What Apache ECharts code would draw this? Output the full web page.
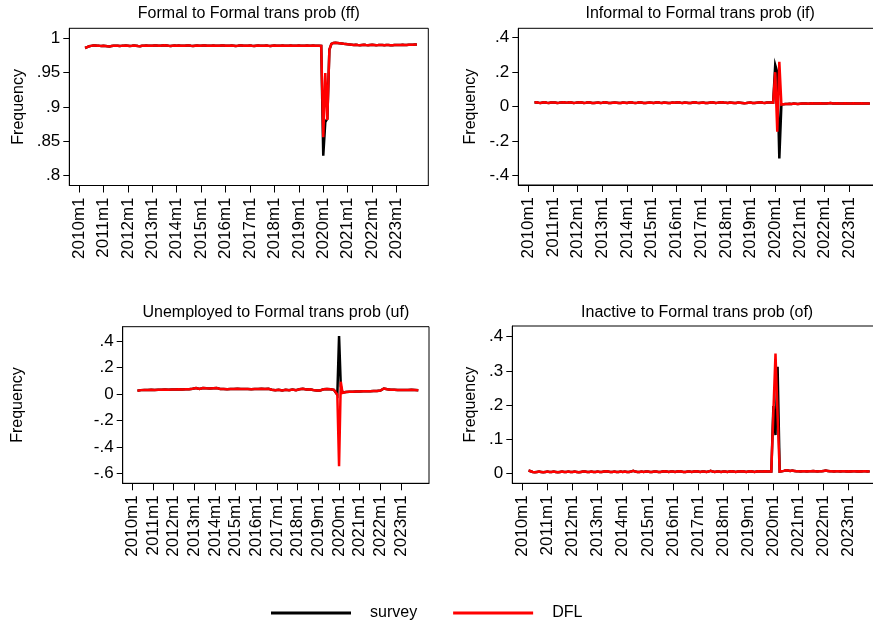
<!DOCTYPE html>
<html><head><meta charset="utf-8">
<script src="https://cdn.jsdelivr.net/npm/echarts@6/dist/echarts.min.js"></script>
<style>html,body{margin:0;padding:0;background:#fff}#c{width:873px;height:628px}</style>
</head><body><div id="c"></div>
<script>
// month index: 0 = 2010m1; data run from 2010m4 (index 3) to 2023m11
const startMonth = 3;
const yearTicks = [0,12,24,36,48,60,72,84,96,108,120,132,144,156];
const ffTicks = [0.8,0.85,0.9,0.95,1];
const ifTicks = [-0.4,-0.2,0,0.2,0.4];
const ufTicks = [-0.6,-0.4,-0.2,0,0.2,0.4];
const ofTicks = [0,0.1,0.2,0.3,0.4];
const titles = ['Formal to Formal trans prob (ff)','Informal to Formal trans prob (if)','Unemployed to Formal trans prob (uf)','Inactive to Formal trans prob (of)'];
const seriesNames = ['survey','DFL'];

const ffSurvey = [
0.9855,0.9868,0.9880,0.9886,0.9890,0.9891,0.9889,0.9886,0.9884,
0.9887,0.9885,0.9880,0.9878,0.9883,0.9886,0.9889,0.9887,0.9884,0.9886,0.9889,0.9890,
0.9888,0.9885,0.9887,0.9890,0.9888,0.9884,0.9882,0.9886,0.9889,0.9891,0.9888,0.9886,
0.9889,0.9892,0.9890,0.9887,0.9889,0.9891,0.9893,0.9890,0.9886,0.9884,0.9887,0.9890,
0.9889,0.9891,0.9888,0.9886,0.9889,0.9892,0.9890,0.9887,0.9885,0.9888,0.9890,0.9889,
0.9887,0.9890,0.9892,0.9889,0.9886,0.9888,0.9891,0.9889,0.9887,0.9889,0.9892,0.9890,
0.9888,0.9886,0.9889,0.9891,0.9888,0.9885,0.9887,0.9890,0.9892,0.9889,0.9886,0.9888,
0.9890,0.9887,0.9885,0.9888,0.9891,0.9889,0.9886,0.9888,0.9890,0.9887,0.9885,0.9888,
0.9890,0.9888,0.9886,0.9889,0.9891,0.9888,0.9886,0.9889,0.9890,0.9888,0.9887,0.9889,
0.9891,0.9888,0.9886,0.9889,0.9890,0.9887,0.9889,0.9891,0.9888,0.9886,0.9889,0.9885,
0.829,0.878,0.883,0.983,0.9915,0.9928,0.9932,0.9929,0.9925,0.9921,0.9916,0.9912,
0.9908,0.9905,0.9902,0.9899,0.9901,0.9898,0.9896,0.9899,0.9901,0.9898,0.9896,0.9899,
0.9901,0.9898,0.9895,0.9897,0.9900,0.9898,0.9895,0.9897,0.9899,0.9896,0.9894,0.9897,
0.9899,0.9897,0.9899,0.9902,0.9900,0.9898,0.9901,0.9903,0.9901,0.9904,0.9906];
const ffDFL = [
0.9855,0.9868,0.9880,0.9886,0.9890,0.9891,0.9889,0.9886,0.9884,
0.9887,0.9885,0.9880,0.9878,0.9883,0.9886,0.9889,0.9887,0.9884,0.9886,0.9889,0.9890,
0.9888,0.9885,0.9887,0.9890,0.9888,0.9884,0.9882,0.9886,0.9889,0.9891,0.9888,0.9886,
0.9889,0.9892,0.9890,0.9887,0.9889,0.9891,0.9893,0.9890,0.9886,0.9884,0.9887,0.9890,
0.9889,0.9891,0.9888,0.9886,0.9889,0.9892,0.9890,0.9887,0.9885,0.9888,0.9890,0.9889,
0.9887,0.9890,0.9892,0.9889,0.9886,0.9888,0.9891,0.9889,0.9887,0.9889,0.9892,0.9890,
0.9888,0.9886,0.9889,0.9891,0.9888,0.9885,0.9887,0.9890,0.9892,0.9889,0.9886,0.9888,
0.9890,0.9887,0.9885,0.9888,0.9891,0.9889,0.9886,0.9888,0.9890,0.9887,0.9885,0.9888,
0.9890,0.9888,0.9886,0.9889,0.9891,0.9888,0.9886,0.9889,0.9890,0.9888,0.9887,0.9889,
0.9891,0.9888,0.9886,0.9889,0.9890,0.9887,0.9889,0.9891,0.9888,0.9886,0.9889,0.9885,
0.856,0.949,0.881,0.983,0.9915,0.9928,0.9932,0.9929,0.9925,0.9921,0.9916,0.9912,
0.9908,0.9905,0.9902,0.9899,0.9901,0.9898,0.9896,0.9899,0.9901,0.9898,0.9896,0.9899,
0.9901,0.9898,0.9895,0.9897,0.9900,0.9898,0.9895,0.9897,0.9899,0.9896,0.9894,0.9897,
0.9899,0.9897,0.9899,0.9902,0.9900,0.9898,0.9901,0.9903,0.9901,0.9904,0.9906];

const ifSurvey = [
0.024,0.025,0.023,0.022,0.024,0.025,0.023,0.022,0.024,
0.025,0.024,0.022,0.023,0.025,0.026,0.024,0.023,0.025,0.024,0.022,0.023,
0.025,0.026,0.024,0.022,0.023,0.025,0.024,0.022,0.021,0.023,0.024,0.022,
0.023,0.025,0.024,0.022,0.021,0.023,0.024,0.023,0.021,0.022,0.024,0.023,
0.022,0.024,0.025,0.023,0.022,0.023,0.025,0.024,0.022,0.021,0.023,0.024,
0.023,0.022,0.024,0.025,0.023,0.022,0.024,0.023,0.021,0.022,0.024,0.023,
0.024,0.025,0.023,0.022,0.024,0.023,0.021,0.022,0.024,0.025,0.023,0.022,
0.023,0.024,0.022,0.021,0.023,0.025,0.024,0.022,0.023,0.025,0.026,0.024,
0.023,0.022,0.024,0.023,0.021,0.022,0.024,0.023,0.022,0.020,0.021,0.023,
0.024,0.022,0.021,0.023,0.024,0.025,0.023,0.022,0.024,0.025,0.024,0.023,
0.242,0.200,-0.300,0.012,0.014,0.016,0.015,0.017,0.016,0.018,0.017,0.016,
0.017,0.018,0.019,0.018,0.017,0.019,0.020,0.019,0.018,0.019,0.020,0.019,
0.018,0.019,0.020,0.021,0.019,0.018,0.020,0.019,0.018,0.019,0.020,0.019,
0.018,0.019,0.020,0.019,0.018,0.019,0.020,0.019,0.018,0.019,0.019];
const ifDFL = [
0.024,0.025,0.023,0.022,0.024,0.025,0.023,0.022,0.024,
0.025,0.024,0.022,0.023,0.025,0.026,0.024,0.023,0.025,0.024,0.022,0.023,
0.025,0.026,0.024,0.022,0.023,0.025,0.024,0.022,0.021,0.023,0.024,0.022,
0.023,0.025,0.024,0.022,0.021,0.023,0.024,0.023,0.021,0.022,0.024,0.023,
0.022,0.024,0.025,0.023,0.022,0.023,0.025,0.024,0.022,0.021,0.023,0.024,
0.023,0.022,0.024,0.025,0.023,0.022,0.024,0.023,0.021,0.022,0.024,0.023,
0.024,0.025,0.023,0.022,0.024,0.023,0.021,0.022,0.024,0.025,0.023,0.022,
0.023,0.024,0.022,0.021,0.023,0.025,0.024,0.022,0.023,0.025,0.026,0.024,
0.023,0.022,0.024,0.023,0.021,0.022,0.024,0.023,0.022,0.020,0.021,0.023,
0.024,0.022,0.021,0.023,0.024,0.025,0.023,0.022,0.024,0.025,0.024,0.023,
0.200,-0.145,0.260,0.012,0.014,0.016,0.015,0.017,0.016,0.018,0.017,0.016,
0.017,0.018,0.019,0.018,0.017,0.019,0.020,0.019,0.018,0.019,0.020,0.019,
0.018,0.019,0.020,0.021,0.019,0.018,0.020,0.019,0.018,0.019,0.020,0.019,
0.018,0.019,0.020,0.019,0.018,0.019,0.020,0.019,0.018,0.019,0.019];

const ufSurvey = [
0.025,0.028,0.030,0.027,0.031,0.033,0.030,0.028,0.032,
0.034,0.031,0.029,0.033,0.035,0.032,0.030,0.034,0.036,0.033,0.031,0.035,
0.037,0.034,0.032,0.036,0.038,0.035,0.033,0.037,0.039,0.036,0.034,0.040,
0.050,0.045,0.040,0.038,0.042,0.046,0.048,0.044,0.041,0.043,0.047,0.044,
0.048,0.045,0.041,0.039,0.036,0.038,0.040,0.037,0.035,0.038,0.041,0.039,
0.037,0.040,0.042,0.039,0.036,0.038,0.041,0.038,0.035,0.037,0.040,0.038,
0.036,0.039,0.042,0.040,0.037,0.039,0.043,0.040,0.036,0.033,0.031,0.029,
0.031,0.033,0.030,0.028,0.031,0.033,0.031,0.029,0.032,0.034,0.032,0.030,
0.033,0.036,0.038,0.040,0.037,0.035,0.038,0.036,0.033,0.031,0.029,0.027,
0.025,0.028,0.032,0.036,0.040,0.038,0.035,0.037,0.034,0.032,0.040,-0.005,
0.438,0.060,0.012,0.015,0.015,0.018,0.017,0.019,0.018,0.020,0.019,0.021,
0.020,0.022,0.021,0.023,0.022,0.020,0.022,0.024,0.023,0.021,0.023,0.025,
0.027,0.033,0.042,0.040,0.037,0.035,0.033,0.031,0.032,0.030,0.031,0.029,
0.030,0.032,0.031,0.029,0.031,0.033,0.032,0.030,0.031,0.030,0.029];
const ufDFL = [
0.025,0.028,0.030,0.027,0.031,0.033,0.030,0.028,0.032,
0.034,0.031,0.029,0.033,0.035,0.032,0.030,0.034,0.036,0.033,0.031,0.035,
0.037,0.034,0.032,0.036,0.038,0.035,0.033,0.037,0.039,0.036,0.034,0.040,
0.050,0.045,0.040,0.038,0.042,0.046,0.048,0.044,0.041,0.043,0.047,0.044,
0.048,0.045,0.041,0.039,0.036,0.038,0.040,0.037,0.035,0.038,0.041,0.039,
0.037,0.040,0.042,0.039,0.036,0.038,0.041,0.038,0.035,0.037,0.040,0.038,
0.036,0.039,0.042,0.040,0.037,0.039,0.043,0.040,0.036,0.033,0.031,0.029,
0.031,0.033,0.030,0.028,0.031,0.033,0.031,0.029,0.032,0.034,0.032,0.030,
0.033,0.036,0.038,0.040,0.037,0.035,0.038,0.036,0.033,0.031,0.029,0.027,
0.025,0.028,0.032,0.036,0.040,0.038,0.035,0.037,0.034,0.032,0.040,-0.005,
-0.543,0.093,0.008,0.015,0.015,0.018,0.017,0.019,0.018,0.020,0.019,0.021,
0.020,0.022,0.021,0.023,0.022,0.020,0.022,0.024,0.023,0.021,0.023,0.025,
0.027,0.033,0.042,0.040,0.037,0.035,0.033,0.031,0.032,0.030,0.031,0.029,
0.030,0.032,0.031,0.029,0.031,0.033,0.032,0.030,0.031,0.030,0.029];

const ofSurvey = [
0.008,0.006,0.004,0.003,0.004,0.005,0.004,0.003,0.004,
0.005,0.004,0.004,0.005,0.004,0.003,0.004,0.005,0.004,0.004,0.005,0.004,
0.004,0.005,0.004,0.003,0.004,0.005,0.005,0.004,0.004,0.005,0.004,0.004,
0.005,0.004,0.004,0.005,0.006,0.005,0.004,0.004,0.005,0.004,0.004,0.005,
0.004,0.005,0.004,0.004,0.005,0.007,0.005,0.004,0.004,0.005,0.004,0.005,
0.005,0.004,0.004,0.005,0.005,0.004,0.004,0.005,0.006,0.005,0.004,0.005,
0.005,0.004,0.005,0.006,0.005,0.004,0.004,0.005,0.005,0.004,0.005,0.006,
0.005,0.004,0.005,0.005,0.004,0.005,0.007,0.005,0.004,0.005,0.005,0.004,
0.005,0.005,0.004,0.005,0.006,0.005,0.004,0.005,0.005,0.006,0.005,0.004,
0.005,0.006,0.005,0.004,0.005,0.006,0.005,0.005,0.006,0.005,0.005,0.005,
0.197,0.112,0.312,0.005,0.006,0.007,0.009,0.008,0.007,0.008,0.007,0.006,
0.006,0.005,0.006,0.006,0.005,0.006,0.006,0.007,0.006,0.005,0.006,0.006,
0.007,0.008,0.007,0.006,0.006,0.005,0.006,0.006,0.005,0.006,0.006,0.005,
0.006,0.005,0.006,0.006,0.005,0.006,0.005,0.006,0.006,0.005,0.006];
const ofDFL = [
0.008,0.006,0.004,0.003,0.004,0.005,0.004,0.003,0.004,
0.005,0.004,0.004,0.005,0.004,0.003,0.004,0.005,0.004,0.004,0.005,0.004,
0.004,0.005,0.004,0.003,0.004,0.005,0.005,0.004,0.004,0.005,0.004,0.004,
0.005,0.004,0.004,0.005,0.006,0.005,0.004,0.004,0.005,0.004,0.004,0.005,
0.004,0.005,0.004,0.004,0.005,0.007,0.005,0.004,0.004,0.005,0.004,0.005,
0.005,0.004,0.004,0.005,0.005,0.004,0.004,0.005,0.006,0.005,0.004,0.005,
0.005,0.004,0.005,0.006,0.005,0.004,0.004,0.005,0.005,0.004,0.005,0.006,
0.005,0.004,0.005,0.005,0.004,0.005,0.007,0.005,0.004,0.005,0.005,0.004,
0.005,0.005,0.004,0.005,0.006,0.005,0.004,0.005,0.005,0.006,0.005,0.004,
0.005,0.006,0.005,0.004,0.005,0.006,0.005,0.005,0.006,0.005,0.005,0.005,
0.180,0.351,0.170,0.005,0.006,0.007,0.009,0.008,0.007,0.008,0.007,0.006,
0.006,0.005,0.006,0.006,0.005,0.006,0.006,0.007,0.006,0.005,0.006,0.006,
0.007,0.008,0.007,0.006,0.006,0.005,0.006,0.006,0.005,0.006,0.006,0.005,
0.006,0.005,0.006,0.006,0.005,0.006,0.005,0.006,0.006,0.005,0.006];

const FONT = '"Liberation Sans", Arial, sans-serif';
const FS = 16;   // titles, axis names, legend
const TFS = 17;  // tick labels
// panel layout [left, top, right, bottom], x range, y range, name gap
const panels = [
  {box:[69.3,28.3,428.3,185.5], x:[-4.76,171.6], y:[0.7858,1.0141], ticks:ffTicks, gap:43, s:ffSurvey, d:ffDFL},
  {box:[518.3,28.3,882,185], x:[-4.86,171.9], y:[-0.454,0.4545], ticks:ifTicks, gap:40, s:ifSurvey, d:ifDFL},
  {box:[122.7,326.7,429,483.3], x:[-5.57,172.2], y:[-0.672,0.5078], ticks:ufTicks, gap:97, s:ufSurvey, d:ufDFL},
  {box:[512.3,326,882,483.3], x:[-4.78,171.9], y:[-0.0293,0.4313], ticks:ofTicks, gap:34, s:ofSurvey, d:ofDFL}
];
const titleY = [14, 14, 313, 313];

function yFmt(v){ if (Math.abs(v) < 1e-9) return '0'; const s = String(+v.toFixed(2)); return s.replace(/^(-?)0\./, '$1.'); }
function xFmt(v){ return (2010 + Math.round(v/12)) + 'm1'; }
const toPairs = arr => arr.map((v,i) => [startMonth + i, v]);

const grid=[], xAxis=[], yAxis=[], series=[], title=[];
panels.forEach((p,i) => {
  const [l,t,r,b] = p.box;
  grid.push({left:l, top:t, width:r-l, height:b-t, show:true, borderColor:'#000', borderWidth:1, containLabel:false, outerBoundsMode:'none'});
  title.push({text:titles[i], left:(l+r)/2, top:titleY[i], textAlign:'center', textVerticalAlign:'middle', padding:0,
    textStyle:{fontSize:FS, fontWeight:'normal', color:'#000', fontFamily:FONT}});
  xAxis.push({type:'value', gridIndex:i, min:p.x[0], max:p.x[1],
    axisLine:{show:true, onZero:false, lineStyle:{color:'#000', width:1}},
    axisTick:{show:true, length:7, customValues:yearTicks, lineStyle:{color:'#000', width:1}},
    axisLabel:{customValues:yearTicks, rotate:90, margin:12, fontSize:TFS, color:'#000', fontFamily:FONT, formatter:xFmt},
    splitLine:{show:false}});
  yAxis.push({type:'value', gridIndex:i, min:p.y[0], max:p.y[1],
    axisLine:{show:true, onZero:false, lineStyle:{color:'#000', width:1}},
    axisTick:{show:true, length:6, customValues:p.ticks, lineStyle:{color:'#000', width:1}},
    axisLabel:{customValues:p.ticks, margin:9, fontSize:TFS, color:'#000', fontFamily:FONT, formatter:yFmt},
    splitLine:{show:false},
    name:'Frequency', nameLocation:'middle', nameGap:p.gap, nameRotate:90,
    nameTextStyle:{fontSize:FS, color:'#000', fontFamily:FONT}});
  series.push({name:seriesNames[0], type:'line', xAxisIndex:i, yAxisIndex:i, data:toPairs(p.s), symbol:'none', showSymbol:false,
    lineStyle:{color:'#000', width:2.5, join:'miter'}, itemStyle:{color:'#000'}, z:2});
  series.push({name:seriesNames[1], type:'line', xAxisIndex:i, yAxisIndex:i, data:toPairs(p.d), symbol:'none', showSymbol:false,
    lineStyle:{color:'#ff0000', width:2.5, join:'miter'}, itemStyle:{color:'#ff0000'}, z:3});
});

const chart = echarts.init(document.getElementById('c'), null, {renderer:'canvas'});
chart.setOption({
  animation:false,
  backgroundColor:'#fff',
  title, grid, xAxis, yAxis, series,
  legend:{data:seriesNames, left:271, top:605, padding:0, itemWidth:80, itemHeight:3, itemGap:36, icon:'rect',
    textStyle:{fontSize:FS, color:'#000', fontFamily:FONT, padding:[0,0,0,14]}}
});
</script></body></html>
